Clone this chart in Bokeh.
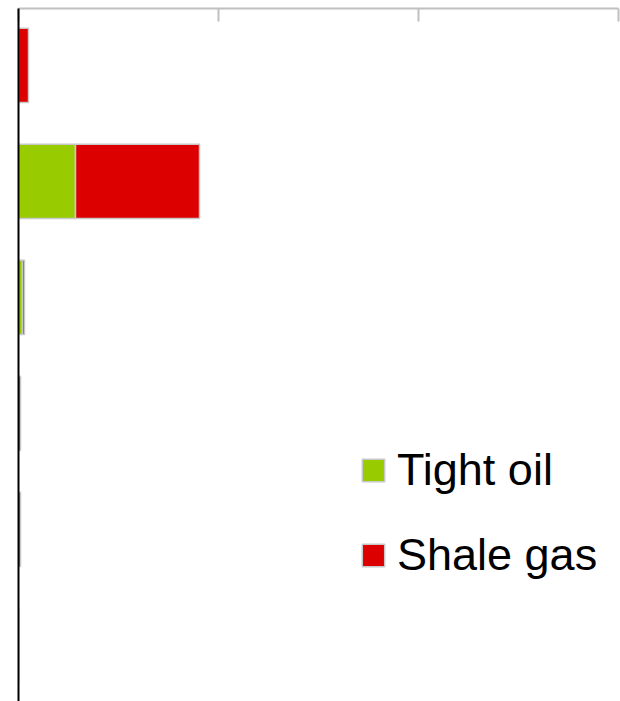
from bokeh.plotting import figure
from bokeh.models import ColumnDataSource, Range1d, Legend, FixedTicker, CustomJSTickFormatter
from bokeh.embed import file_html
from bokeh.resources import INLINE

categories = ["1", "2", "3", "4", "5", "6"]
tight_oil = [0.0, 2.85, 0.2, 0.0, 0.0, 0.0]
shale_gas = [0.5, 6.2, 0.1, 0.1, 0.1, 0.0]
x_ticks = [0, 10, 20, 30]

src = ColumnDataSource(dict(
    y=list(range(len(categories))),
    tight=tight_oil,
    shale=shale_gas,
))

p = figure(width=620, height=701, output_backend="svg", toolbar_location=None,
           x_range=Range1d(0, 30), y_range=Range1d(5.483, -0.491),
           x_axis_location="above", min_border_left=18, min_border_right=2,
           min_border_top=8, min_border_bottom=0)
p.outline_line_color = None
p.grid.visible = False

renderers = p.hbar_stack(["tight", "shale"], y="y", height=0.64, source=src,
                         color=["#99cc00", "#dd0000"],
                         line_color="#c8c8c8", line_width=1.5)

blank = CustomJSTickFormatter(code="return ''")

xa = p.xaxis[0]
xa.ticker = FixedTicker(ticks=x_ticks)
xa.formatter = blank
xa.major_tick_in = 13
xa.major_tick_out = 0
xa.minor_tick_line_color = None
xa.major_tick_line_color = "#c0c0c0"
xa.major_tick_line_width = 2
xa.axis_line_color = "#c0c0c0"
xa.axis_line_width = 2
xa.major_label_standoff = 0
xa.axis_label = None

ya = p.yaxis[0]
ya.ticker = FixedTicker(ticks=[])
ya.formatter = blank
ya.major_tick_line_color = None
ya.minor_tick_line_color = None
ya.major_label_standoff = 0
ya.axis_line_color = "black"
ya.axis_line_width = 2
ya.axis_label = None

legend = Legend(items=[("Tight oil", [renderers[0]]), ("Shale gas", [renderers[1]])],
                location=(341, 120), orientation="vertical",
                glyph_width=28, glyph_height=28, label_standoff=10,
                label_text_font="Liberation Sans", label_text_font_size="45px",
                label_text_color="black",
                spacing=33, padding=0, margin=0,
                border_line_color=None, background_fill_alpha=0)
p.add_layout(legend, "center")

open("out.html", "w").write(file_html(p, INLINE))
